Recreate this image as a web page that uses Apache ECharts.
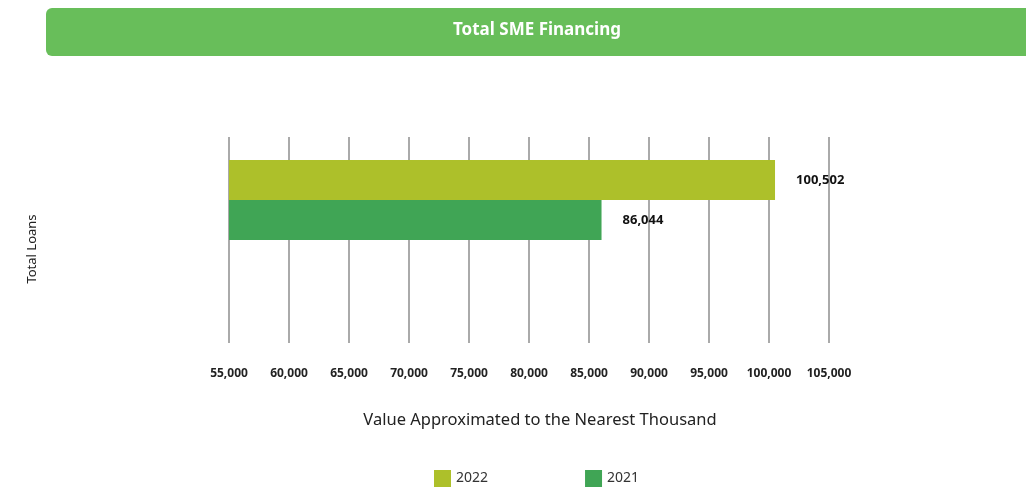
<!DOCTYPE html>
<html>
<head>
<meta charset="utf-8">
<script src="https://cdn.jsdelivr.net/npm/echarts@6/dist/echarts.min.js"></script>
<style>
  html, body { margin: 0; padding: 0; background: #fff; }
  #main { width: 1026px; height: 489px; }
</style>
</head>
<body>
<div id="main"></div>
<script>
// data
const categories = ['Total Loans']
const seriesNames = ['2022', '2021']
const values2022 = [100502]
const values2021 = [86044]
const seriesColors = ['#adc02a', '#40a555']

const fmt = v => v.toLocaleString('en-US')

var chart = echarts.init(document.getElementById('main'))

const barSeries = (name, data, color) => ({
    name: name,
    type: 'bar',
    data: data,
    barWidth: 40,
    barGap: '0%',
    itemStyle: { color: color },
    label: {
        show: true,
        position: 'right',
        distance: 21,
        formatter: p => fmt(p.value),
        color: '#111',
        fontFamily: 'Noto Sans',
        fontWeight: 'bold',
        fontSize: 13
    }
})

// empty slots keep the two bars in the upper part of the band
const spacer = {
    type: 'bar',
    data: [null],
    barWidth: 40,
    barGap: '0%',
    silent: true
}

chart.setOption({
    animation: false,
    textStyle: { fontFamily: 'Noto Sans' },
    graphic: [{
        type: 'rect',
        left: 46,
        top: 8,
        shape: { width: 990, height: 48, r: 6 },
        style: { fill: '#68be5a' },
        z: 0
    }, {
        type: 'text',
        left: 453,
        top: 22,
        style: {
            text: 'Total SME Financing',
            fill: '#fff',
            font: 'bold 17px "Noto Sans"'
        },
        z: 1
    }],
    legend: {
        data: seriesNames,
        top: 470,
        left: 434,
        padding: 0,
        itemWidth: 17,
        itemHeight: 17,
        itemGap: 97,
        icon: 'rect',
        textStyle: { color: '#333', fontSize: 14 }
    },
    grid: {
        left: 229,
        right: 197,
        top: 137,
        bottom: 146
    },
    xAxis: {
        type: 'value',
        min: 55000,
        max: 105000,
        interval: 5000,
        name: 'Value Approximated to the Nearest Thousand',
        nameLocation: 'middle',
        nameGap: 69,
        nameTextStyle: { color: '#222', fontSize: 16.5, padding: [0, 0, 0, 22] },
        axisLine: { show: false },
        axisTick: { show: false },
        axisLabel: {
            margin: 25,
            formatter: v => fmt(v),
            color: '#222',
            fontWeight: 'bold',
            fontSize: 12
        },
        splitLine: { show: true, lineStyle: { color: '#aaa', width: 2 } }
    },
    yAxis: {
        type: 'category',
        data: categories,
        inverse: true,
        name: 'Total Loans',
        nameLocation: 'middle',
        nameGap: 190,
        nameTextStyle: { color: '#222', fontSize: 13, padding: [0, 18, 0, 0] },
        axisLine: { show: false },
        axisTick: { show: false },
        axisLabel: { show: false }
    },
    series: [
        barSeries(seriesNames[0], values2022, seriesColors[0]),
        barSeries(seriesNames[1], values2021, seriesColors[1]),
        spacer,
        spacer
    ]
})
</script>
</body>
</html>
